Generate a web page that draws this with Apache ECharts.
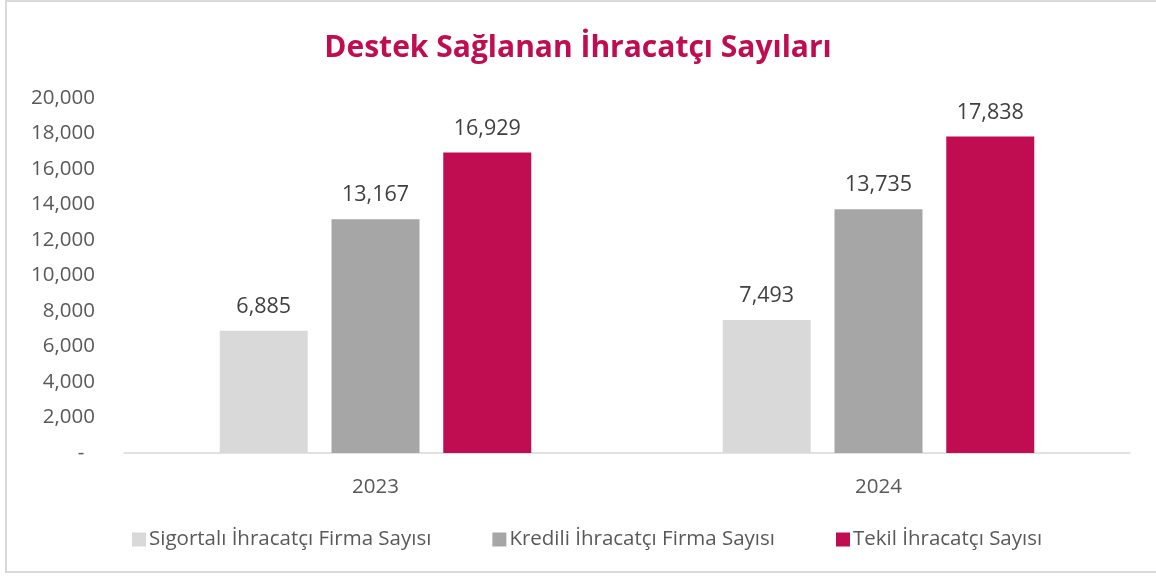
<!DOCTYPE html>
<html>
<head>
<meta charset="utf-8">
<script src="https://cdn.jsdelivr.net/npm/echarts@6/dist/echarts.min.js"></script>
<style>
    html, body { margin: 0; padding: 0; background: #fff; }
    .frame {
        position: absolute;
        left: 5px;
        top: 0;
        width: 1151px;
        height: 573px;
        border-left: 2px solid #d9d9d9;
        border-top: 2px solid #d9d9d9;
        border-bottom: 2px solid #d9d9d9;
        box-sizing: border-box;
    }
    #chart { position: absolute; left: 0; top: 0; width: 1156px; height: 576px; }
</style>
</head>
<body>
<div class="frame"></div>
<div id="chart"></div>
<script>
// chart data
const years = ["2023", "2024"];
const sigortaliFirma = [6885, 7493];
const krediliFirma = [13167, 13735];
const tekilIhracatci = [16929, 17838];
const seriesNames = [
    "Sigortalı İhracatçı Firma Sayısı",
    "Kredili İhracatçı Firma Sayısı",
    "Tekil İhracatçı Sayısı",
];

const font = "'Open Sans', 'Noto Sans', sans-serif";
const colors = ["#d9d9d9", "#a6a6a6", "#c00d52"];

const chart = echarts.init(document.getElementById("chart"));

function makeBar(name, data, color) {
    return {
        name,
        type: "bar",
        data,
        barWidth: 88,
        barGap: "27%",
        itemStyle: { color },
        label: {
            show: true,
            position: "top",
            distance: 13,
            color: "#404040",
            fontFamily: font,
            fontSize: 21.5,
            formatter: (p) => p.value.toLocaleString("en-US"),
        },
    };
}

const options = {
    animation: false,
    title: {
        text: "Destek Sağlanan İhracatçı Sayıları",
        left: "center",
        top: 28,
        textStyle: {
            color: "#c00d52",
            fontFamily: font,
            fontWeight: "bold",
            fontSize: 30,
        },
    },
    legend: {
        data: seriesNames,
        left: 127,
        top: 524,
        icon: "rect",
        itemWidth: 14,
        itemHeight: 14,
        itemGap: 61,
        textStyle: {
            color: "#595959",
            fontFamily: font,
            fontSize: 20.5,
            padding: [0, 0, 0, -2],
        },
    },
    grid: {
        left: 124,
        right: 26,
        top: 98,
        bottom: 123,
    },
    xAxis: {
        type: "category",
        data: years,
        axisLine: { lineStyle: { color: "#d9d9d9", width: 1.5 } },
        axisTick: { show: false },
        axisLabel: {
            margin: 24,
            color: "#595959",
            fontFamily: font,
            fontSize: 20.5,
        },
    },
    yAxis: {
        type: "value",
        min: 0,
        max: 20000,
        interval: 2000,
        axisLine: { show: false },
        axisTick: { show: false },
        splitLine: { show: false },
        axisLabel: {
            margin: 29,
            color: "#595959",
            fontFamily: font,
            fontSize: 20.5,
            formatter: (v) => (v === 0 ? "-  " : v.toLocaleString("en-US")),
        },
    },
    series: [
        makeBar(seriesNames[0], sigortaliFirma, colors[0]),
        makeBar(seriesNames[1], krediliFirma, colors[1]),
        makeBar(seriesNames[2], tekilIhracatci, colors[2]),
    ],
};

chart.setOption(options);
</script>
</body>
</html>
